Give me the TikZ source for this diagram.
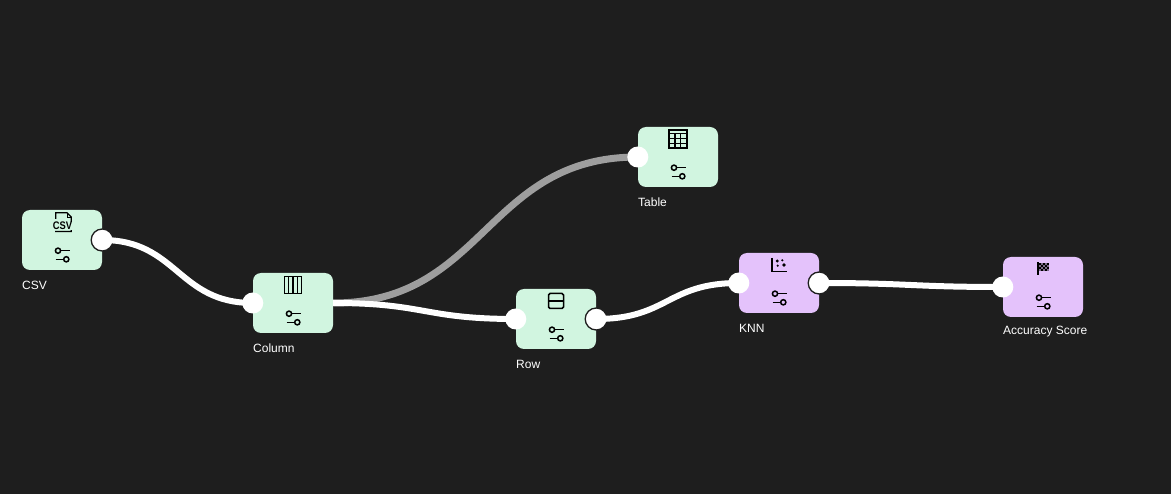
\documentclass[tikz,border=0pt]{standalone}
\usepackage{fontspec}
\setmainfont{Liberation Sans}
\definecolor{bgc}{HTML}{1E1E1E}
\definecolor{gbox}{HTML}{D1F5E0}
\definecolor{pbox}{HTML}{E4C2FB}
\definecolor{gedge}{HTML}{9E9E9E}
\tikzset{
  nodebox/.style={rectangle,rounded corners=8pt,minimum width=80pt,minimum height=60pt,inner sep=0pt,draw=none},
  greenbox/.style={nodebox,fill=gbox},
  purplebox/.style={nodebox,fill=pbox},
  lab/.style={anchor=west,inner sep=0pt,text=white,font=\fontsize{12}{14}\selectfont},
  inport/.style={circle,fill=white,draw=none,minimum size=21pt,inner sep=0pt},
  outport/.style={circle,fill=white,draw=bgc,line width=1.3pt,minimum size=22pt,inner sep=0pt},
  wire/.style={draw=white,line width=6pt},
  greywire/.style={draw=gedge,line width=7pt},
  ic/.style={draw=black,line width=1.5pt,fill=none},
  icthin/.style={draw=black,line width=1.3pt,fill=none},
  sliders/.pic={
    \draw[ic] (-4,10.7) circle (2.6);
    \draw[ic] (-1.4,10.7) -- (7.5,10.7);
    \draw[ic] (4.3,19.3) circle (2.6);
    \draw[ic] (-6.5,19.3) -- (1.7,19.3);
  }
}
\begin{document}
\begin{tikzpicture}[x=1pt,y=-1pt]
\fill[bgc] (0,0) rectangle (1171,494);
\useasboundingbox (0,0) rectangle (1171,494);
% boxes
\node[greenbox] (csv) at (62,240) {};
\node[greenbox] (col) at (293,303) {};
\node[greenbox] (row) at (556,319) {};
\node[greenbox] (tab) at (678,157) {};
\node[purplebox] (knn) at (779,283) {};
\node[purplebox] (acc) at (1043,287) {};
% labels
\node[lab] (csvl) at (22,285) {CSV};
\node[lab] (coll) at (253,348) {Column};
\node[lab] (rowl) at (516,364) {Row};
\node[lab] (tabl) at (638,202) {Table};
\node[lab] (knnl) at (739,328) {KNN};
\node[lab] (accl) at (1003,332) {Accuracy Score};
% output ports
\node[outport] (csvo) at (csv.east) {};
\node[outport] (rowo) at (row.east) {};
\node[outport] (knno) at (knn.east) {};
\coordinate (colout) at (col.east);
% wires
\draw[greywire] (colout) .. controls +(152,0) and +(-152,0) .. (tab.west);
\draw[wire] (csvo.center) .. controls +(75,0) and +(-75,0) .. (col.west);
\draw[wire] (colout) .. controls +(92,0) and +(-92,0) .. (row.west);
\draw[wire] (rowo.center) .. controls +(72,0) and +(-72,0) .. (knn.west);
\draw[wire] (knno.center) .. controls +(92,0) and +(-92,0) .. (acc.west);
% input ports
\node[inport] (coli) at (col.west) {};
\node[inport] (rowi) at (row.west) {};
\node[inport] (tabi) at (tab.west) {};
\node[inport] (knni) at (knn.west) {};
\node[inport] (acci) at (acc.west) {};
% slider icons
\foreach \n in {csv,col,row,tab,knn,acc} \pic at (\n.center) {sliders};
% CSV icon
\draw[ic,line width=1.3pt] (55.7,219) -- (55.7,212.7) -- (67,212.7) -- (71.3,217) -- (71.3,231.5) -- (55,231.5);
\draw[icthin,line width=.8pt] (67,212.7) -- (67,217) -- (71.3,217);
\node[inner sep=0pt,fill=gbox,xscale=.85,font=\bfseries\fontsize{11}{11}\selectfont] (csvi) at (62.5,226) {CSV};
% Column icon
\draw[ic] (284.5,276.5) rectangle (301.5,293.5);
\draw[ic,line width=1.2pt] (288.75,276.5) -- (288.75,293.5) (293,276.5) -- (293,293.5) (297.25,276.5) -- (297.25,293.5);
% Row icon
\draw[ic,rounded corners=1.5pt] (548.5,293.5) rectangle (563.5,308.5);
\draw[icthin] (548.5,301) -- (563.5,301);
% Table icon
\draw[ic] (669,130) rectangle (687,148);
\draw[icthin] (669,133.7) -- (687,133.7) (669,138.7) -- (687,138.7) (669,143.7) -- (687,143.7);
\draw[icthin] (675,133.7) -- (675,148) (680.8,133.7) -- (680.8,148);
% KNN icon
\draw[ic] (772,258) -- (772,271.5) -- (787,271.5);
\fill (777.3,261) circle (1.6) (782.3,260.3) circle (1.2) (777.7,265.7) circle (1.2) (784,265) circle (1.8);
% flag icon
\draw[ic] (1037.8,262.5) -- (1037.8,275.5);
\foreach \i in {0,...,4} \foreach \j in {0,...,3} {
  \pgfmathparse{int(mod(\i+\j,2))}
  \ifnum\pgfmathresult=0
    \fill[black] (1039+2*\i,263+2*\j) rectangle +(2,2);
  \else
    \fill[black!45!pbox] (1039+2*\i,263+2*\j) rectangle +(2,2);
  \fi
}
\end{tikzpicture}
\end{document}
